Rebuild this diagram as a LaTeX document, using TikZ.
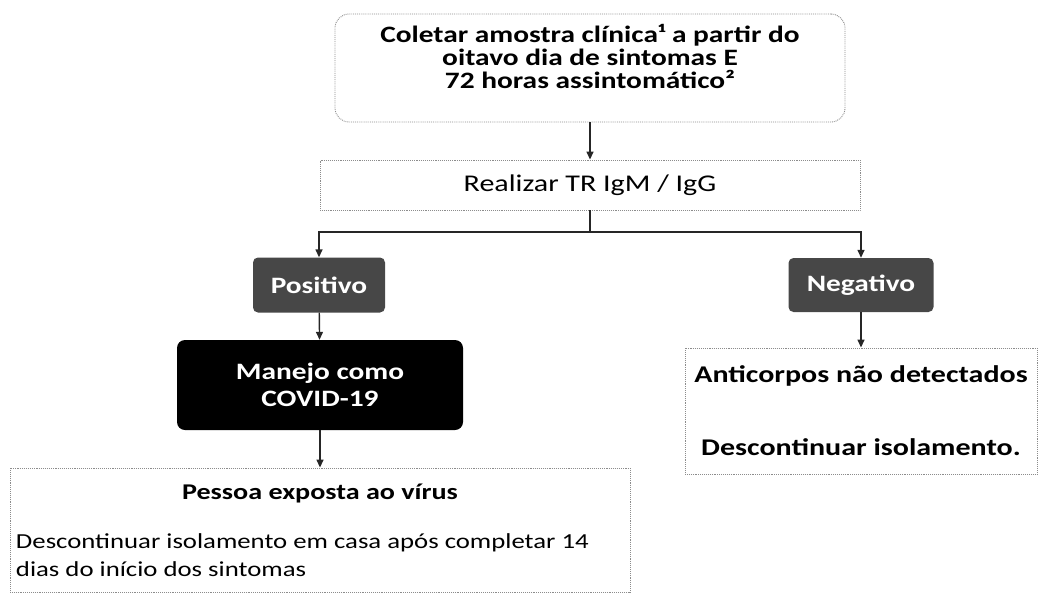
\documentclass[tikz,border=0pt]{standalone}
\usepackage{fontspec}
\setmainfont{Carlito}[FakeStretch=1.25]
\usetikzlibrary{shapes,calc,positioning}
\usetikzlibrary{arrows.meta}

\begin{document}
\begin{tikzpicture}[x=1pt,y=-1pt,text=black,
  caixa/.style={draw=black!45, densely dotted, line width=0.9pt},
  escuro/.style={fill=black!72, rounded corners=5pt, text=white,
                 font=\bfseries\fontsize{23.5}{28}\selectfont},
  seta/.style={draw=black!85, -{Triangle[length=8pt,width=7pt]}, line width=1.4pt},
  liga/.style={draw=black!85, line width=1.4pt}]

  \useasboundingbox (0,0) rectangle (1039,592);

  \node (coleta) at (590,68) [caixa, rounded corners=14pt, minimum width=510pt,
        minimum height=108pt, align=center, font=\bfseries\fontsize{23.5}{23}\selectfont]
        {Coletar amostra clínica¹ a partir do\\ oitavo dia de sintomas E\\
         72 horas assintomático²\\ \mbox{}};
  \node (realizar) at (590,185) [caixa, minimum width=540pt, minimum height=50pt,
        font=\fontsize{24}{28}\selectfont] {Realizar TR IgM / IgG};
  \coordinate (ramo) at (590,232);

  \node (positivo) at (319,285) [escuro, minimum width=132pt, minimum height=55pt] {Positivo};
  \node (negativo) at (861,285) [escuro, minimum width=145pt, minimum height=54pt] {Negativo};

  \node (manejo) at (320,385) [fill=black, rounded corners=8pt, text=white,
        minimum width=286pt, minimum height=90pt, align=center,
        font=\bfseries\fontsize{23.5}{27}\selectfont] {Manejo como\\ COVID-19};

  \node (pessoa) at (320,530) [caixa, minimum width=620pt, minimum height=124pt,
        text width=608pt, align=flush left, font=\fontsize{21.4}{28}\selectfont]
        {{\centering\bfseries\fontsize{22.5}{28}\selectfont Pessoa exposta ao vírus\par}
         \vspace{21pt}
         Descontinuar isolamento em casa após completar 14\\ dias do início dos sintomas};

  \node (anticorpos) at (861,411) [caixa, minimum width=352pt, minimum height=126pt,
        align=center, font=\bfseries\fontsize{24}{28}\selectfont]
        {Anticorpos não detectados\\[45pt] Descontinuar isolamento.};

  \draw[seta] (coleta) -- (realizar);
  \draw[liga] (realizar) -- (ramo);
  \draw[seta] (ramo) -| (positivo);
  \draw[seta] (ramo) -| (negativo);
  \draw[seta] (positivo) -- (manejo);
  \draw[seta] (manejo) -- (pessoa);
  \draw[seta] (negativo) -- (anticorpos);

\end{tikzpicture}
\end{document}
